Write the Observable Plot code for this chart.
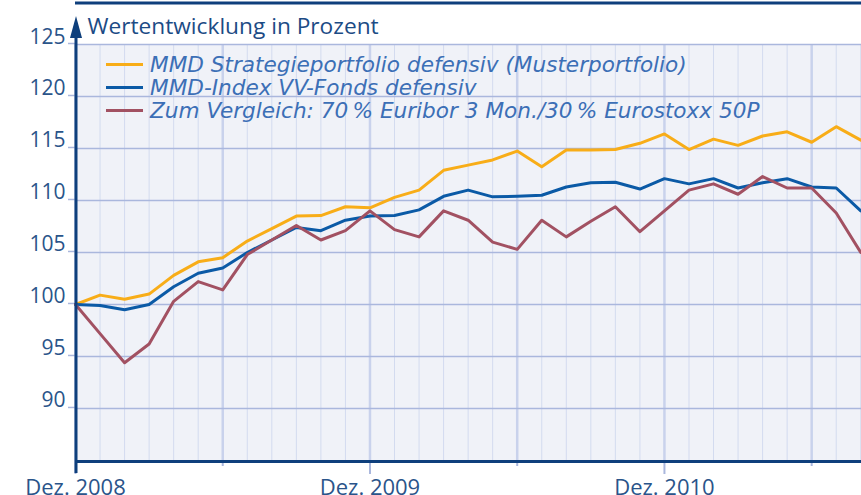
<!DOCTYPE html>
<html><head><meta charset="utf-8">
<script src="https://cdn.jsdelivr.net/npm/d3@7"></script>
<script src="https://cdn.jsdelivr.net/npm/@observablehq/plot@0.6"></script>
<style>
html,body{margin:0;padding:0;background:#fff;}
#wrap{position:relative;width:861px;height:495px;overflow:hidden;}
#wrap svg{display:block;background:linear-gradient(to right,#fff 15px,#d4daec 15px);}
#legend{position:absolute;left:106px;top:53px;font-family:"DejaVu Sans",sans-serif;font-style:italic;font-size:21.6px;color:#3c6fb6;}
#legend .row{position:relative;height:23px;line-height:23px;white-space:nowrap;}
#legend .sw{position:absolute;left:0;top:10px;width:37px;height:3px;}
#legend .lb{position:absolute;left:44px;top:0;}
</style></head>
<body><div id="wrap"></div>
<script>
const title = "Wertentwicklung in Prozent";
const seriesNames = [
  "MMD Strategieportfolio defensiv (Musterportfolio)",
  "MMD-Index VV-Fonds defensiv",
  "Zum Vergleich: 70\u2009% Euribor 3 Mon./30\u2009% Eurostoxx 50P"
];
const seriesColors = ["#f8ad18", "#0b5aa6", "#a25162"];
// month index 0 = Dez. 2008
const months = d3.range(0, 33);
const strategie = [100, 100.9, 100.5, 101.0, 102.8, 104.1, 104.5, 106.1, 107.3, 108.5, 108.55, 109.4, 109.3, 110.3, 111.0, 112.9, 113.4, 113.9, 114.75, 113.25, 114.85, 114.85, 114.9, 115.5, 116.4, 114.9, 115.9, 115.3, 116.2, 116.6, 115.6, 117.1, 115.8];
const vvIndex = [100, 99.9, 99.5, 100.0, 101.7, 103.0, 103.5, 105.0, 106.2, 107.4, 107.1, 108.1, 108.5, 108.55, 109.1, 110.4, 111.0, 110.35, 110.4, 110.5, 111.3, 111.7, 111.75, 111.1, 112.1, 111.6, 112.1, 111.2, 111.7, 112.1, 111.3, 111.2, 109.0];
const vergleich = [100, 97.2, 94.4, 96.2, 100.3, 102.2, 101.4, 104.8, 106.2, 107.6, 106.2, 107.1, 109.0, 107.2, 106.5, 109.0, 108.1, 106.0, 105.3, 108.1, 106.5, 108.0, 109.4, 107.0, 109.0, 111.0, 111.6, 110.6, 112.3, 111.2, 111.2, 108.8, 105.0];
const yTicks = [90, 95, 100, 105, 110, 115, 120, 125];
const xLabelTicks = [0, 12, 24];
const xLabels = ["Dez. 2008", "Dez. 2009", "Dez. 2010"];
const xHalfTicks = [6, 18, 30];

const allSeries = [strategie, vvIndex, vergleich];
const rows = [];
allSeries.forEach((vals, s) => vals.forEach((v, i) => rows.push({series: seriesNames[s], m: months[i], v})));

const font = "Open Sans, sans-serif";
const gridC = "#aab7dd";
const axisC = "#0e3f7c";
const yMin = 84.9, yMax = 125;

const plot = Plot.plot({
  width: 861, height: 495,
  marginLeft: 75, marginRight: 0, marginTop: 44, marginBottom: 34,
  x: {domain: [0, 32.03], axis: null},
  y: {domain: [yMin, yMax], axis: null},
  color: {domain: seriesNames, range: seriesColors},
  style: {fontFamily: font, background: "transparent", overflow: "visible"},
  marks: [
    Plot.frame({fill: "#f0f2f8", stroke: null}),
    Plot.ruleX(months.filter(m => m % 6 !== 0), {stroke: "#d3dbef", strokeWidth: 1}),
    Plot.ruleX(months.filter(m => m % 6 === 0), {stroke: "#c9d2ec", strokeWidth: 2.5}),
    Plot.ruleY(yTicks, {stroke: gridC, strokeWidth: 1.5}),
    Plot.axisY({ticks: yTicks, tickSize: 7, tickPadding: 3, stroke: gridC, strokeWidth: 1.5, label: null,
      lineAnchor: "bottom", dy: -1, fontSize: 21, fill: "#2a548a", tickFormat: d => String(d)}),
    Plot.axisX({ticks: xHalfTicks, tickSize: 5, stroke: gridC, strokeWidth: 2, label: null, tickFormat: () => ""}),
    Plot.axisX({ticks: xLabelTicks, tickSize: 13, stroke: gridC, strokeWidth: 2, tickPadding: 5, label: null,
      fontSize: 22, fill: "#2a548a", tickFormat: d => xLabels[xLabelTicks.indexOf(d)]}),
    Plot.line(rows, {x: "m", y: "v", z: "series", stroke: "series", strokeWidth: 3}),
    Plot.ruleY([yMin], {stroke: axisC, strokeWidth: 3}),
    Plot.text([title], {frameAnchor: "top-left", dx: 12, dy: -11, lineAnchor: "bottom",
      textAnchor: "start", fontSize: 22.7, fill: "#1c4b85"})
  ]
});
document.getElementById("wrap").appendChild(plot);

// decorations: top rule and y-axis arrow
const svg = d3.select(plot);
const xs = plot.scale("x"), ys = plot.scale("y");
const x0 = xs.apply(0) + 1;
svg.append("line").attr("x1", 75).attr("x2", 861).attr("y1", 3).attr("y2", 3)
  .attr("stroke", axisC).attr("stroke-width", 3);
svg.append("line").attr("x1", x0).attr("x2", x0).attr("y1", ys.apply(yMin) + 12).attr("y2", 34)
  .attr("stroke", axisC).attr("stroke-width", 3);
svg.append("path").attr("d", `M${x0},16L${x0 - 6},38L${x0 + 6},38Z`).attr("fill", axisC);

// legend
const lg = d3.select("#wrap").append("div").attr("id", "legend");
seriesNames.forEach((n, i) => {
  const r = lg.append("div").attr("class", "row");
  r.append("span").attr("class", "sw").style("background", seriesColors[i]);
  r.append("span").attr("class", "lb").text(n);
});
</script>
</body></html>
